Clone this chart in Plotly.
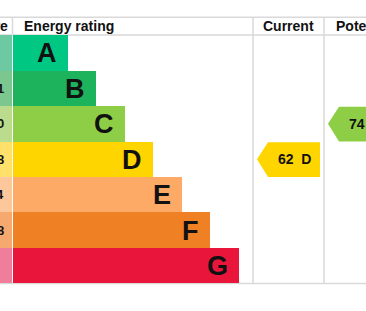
import plotly.graph_objects as go

# ---- data ----
ratings = ["A", "B", "C", "D", "E", "F", "G"]
score_ranges = ["92+", "81-91", "69-80", "55-68", "39-54", "21-38", "1-20"]
range_low = [92, 81, 69, 55, 39, 21, 1]
bar_lengths = [55, 83, 112, 140, 169, 197, 226]
bar_colors = ["#00c781", "#1db35c", "#8dce46", "#ffd500", "#fcaa65", "#ef8023", "#e9153b"]
cell_colors = ["#6cc9a2", "#7cc68f", "#badc8c", "#ffe06a", "#fdc79c", "#f5a96f", "#ef7e9b"]
headers = ["Score", "Energy rating", "Current", "Potential"]
current_value = 62
potential_value = 74

# ---- layout constants (x in px-like units, y in row units) ----
W = 366
BAR_X0 = 13
CELL_X0 = -40
COL_CUR = (253, 324)
COL_POT = (324, 406)
rows = list(range(len(ratings)))


def band(v):
    for i, lo in enumerate(range_low):
        if v >= lo:
            return i
    return len(range_low) - 1


fig = go.Figure()

# score column cells
fig.add_trace(go.Bar(orientation="h", y=rows, x=[12 - CELL_X0] * len(rows), base=CELL_X0,
                     width=1.0, marker=dict(color=cell_colors, line=dict(width=0)),
                     hoverinfo="skip", showlegend=False))
# rating bars
fig.add_trace(go.Bar(orientation="h", y=rows, x=bar_lengths, base=BAR_X0,
                     width=1.0, marker=dict(color=bar_colors, line=dict(width=0)),
                     hoverinfo="skip", showlegend=False))


def arrow(value, col, color, label):
    r = band(value)
    tip = col[0] + 4
    body = tip + 11
    right = col[1] - 4 if col is COL_CUR else col[1]
    top, bot = r - 0.48, r + 0.5
    fig.add_trace(go.Scatter(x=[tip, body, right, right, body, tip],
                             y=[r, top, top, bot, bot, r], mode="lines", fill="toself",
                             fillcolor=color, line=dict(width=0, color=color),
                             hoverinfo="skip", showlegend=False))
    fig.add_annotation(x=(tip + 37.5) / W, xref="paper", y=r, text=label, showarrow=False,
                       font=dict(family="Liberation Sans, Arial", size=14, color="#111"),
                       xanchor="center", yanchor="middle")


cb = band(current_value)
pb = band(potential_value)
arrow(current_value, COL_CUR, bar_colors[cb], f"<b>{current_value}\u00a0\u00a0{ratings[cb]}</b>")
arrow(potential_value, COL_POT, bar_colors[pb], f"<b>{potential_value}\u00a0\u00a0{ratings[pb]}</b>")

# letters in bars
for r, (L, ln) in enumerate(zip(ratings, bar_lengths)):
    fig.add_annotation(x=BAR_X0 + ln - 9, y=r + 0.02, text=f"<b>{L}</b>", showarrow=False,
                       xanchor="right", yanchor="middle",
                       font=dict(family="Liberation Sans, Arial", size=27, color="#111"))
# score text (column partly outside the visible window)
for r, s in enumerate(score_ranges):
    fig.add_annotation(x=-13 / W, xref="paper", y=r, text=f"<b>{s}</b>", showarrow=False,
                       xanchor="center", yanchor="middle",
                       font=dict(family="Liberation Sans, Arial", size=13, color="#111"))

# headers
hfont = dict(family="Liberation Sans, Arial", size=14, color="#111")
fig.add_annotation(x=-11.5 / W, xref="paper", y=-0.75, text=f"<b>{headers[0]}</b>", showarrow=False, xanchor="center", font=hfont)
fig.add_annotation(x=22, y=-0.75, text=f"<b>{headers[1]}</b>", showarrow=False, xanchor="left", font=hfont)
fig.add_annotation(x=sum(COL_CUR) / 2, y=-0.75, text=f"<b>{headers[2]}</b>", showarrow=False, xanchor="center", font=hfont)
fig.add_annotation(x=sum(COL_POT) / 2 / W, xref="paper", y=-0.75, text=f"<b>{headers[3]}</b>", showarrow=False, xanchor="center", font=hfont)

# grid lines
lc = "#d9d9d9"
for yy in (-1.0, -0.5, 6.5):
    fig.add_shape(type="line", x0=-50, x1=420, y0=yy, y1=yy, xref="x", yref="y",
                  line=dict(color=lc, width=1.5), layer="below")
fig.add_shape(type="line", x0=12.5, x1=12.5, y0=-1.0, y1=-0.5, xref="x", yref="y",
              line=dict(color=lc, width=1.5), layer="below")
for xx in (COL_CUR[0], COL_POT[0]):
    fig.add_shape(type="line", x0=xx, x1=xx, y0=-1.0, y1=6.5, xref="x", yref="y",
                  line=dict(color=lc, width=1.5), layer="below")

fig.update_layout(
    width=366, height=311, margin=dict(l=0, r=0, t=0, b=0),
    paper_bgcolor="white", plot_bgcolor="white", barmode="overlay", bargap=0,
    xaxis=dict(range=[0, W], visible=False, fixedrange=True),
    yaxis=dict(range=[7.275, -1.486], visible=False, fixedrange=True),
    showlegend=False,
)
fig.write_html("out.html", config={"displayModeBar": False})
